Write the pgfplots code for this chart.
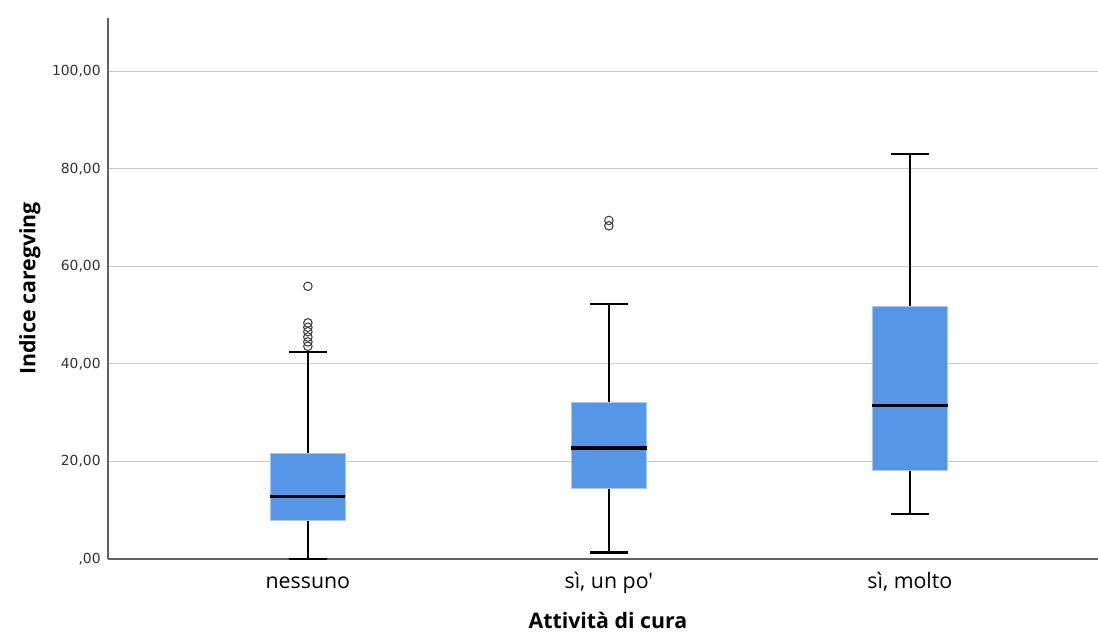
\documentclass[border=0pt]{standalone}
\usepackage{fontspec}
\setmainfont{DejaVu Sans}
\newfontfamily\labelfont{Open Sans}
\newfontfamily\catfont{Open Sans}
\usepackage{pgfplots}
\pgfplotsset{compat=1.18}
\definecolor{boxblue}{HTML}{5596E6}
\definecolor{boxedge}{HTML}{A9C8F0}
\definecolor{gridgray}{HTML}{C8C8C8}
\definecolor{axisgray}{HTML}{606060}
\begin{document}
\begin{tikzpicture}
\useasboundingbox (-81pt,-55.5pt) rectangle (742.5pt,419.25pt);
\begin{axis}[
  scale only axis,
  width=742.5pt, height=405.75pt,
  xmin=-0.664, xmax=2.625,
  ymin=0, ymax=110.9,
  axis x line*=bottom, axis y line*=left,
  axis line style={axisgray, line width=0.8pt},
  xtick={0,1,2},
  xticklabels={nessuno, {sì, un po'}, {sì, molto}},
  ytick={0,20,40,60,80,100},
  yticklabels={{,00},{20,00},{40,00},{60,00},{80,00},{100,00}},
  tick style={draw=none},
  ymajorgrids,
  grid style={gridgray, line width=0.8pt},
  xticklabel style={font=\catfont\fontsize{16}{18}\selectfont, anchor=base, yshift=-21.75pt},
  yticklabel style={font=\fontsize{10.4}{12}\selectfont, text=black!80, xshift=-2pt},
  xlabel={\labelfont\bfseries Attività di cura},
  ylabel={\labelfont\bfseries Indice caregving},
  x label style={font=\fontsize{16}{18}\selectfont, at={(axis description cs:0.505,-0.113)}, anchor=center},
  y label style={font=\fontsize{16}{18}\selectfont, at={(axis description cs:-0.079,0.5)}, anchor=center},
  clip=false,
]
% nessuno
\addplot[black, line width=1.4pt] coordinates {(0,0) (0,7.85)};
\addplot[black, line width=1.4pt] coordinates {(0,21.66) (0,42.4)};
\addplot[black, line width=1.8pt] coordinates {(-0.0625,0) (0.0625,0)};
\addplot[black, line width=1.8pt] coordinates {(-0.0625,42.4) (0.0625,42.4)};
\addplot[fill=boxblue, draw=boxedge, line width=0.5pt] coordinates {(-0.125,7.85) (0.125,7.85) (0.125,21.66) (-0.125,21.66) (-0.125,7.85)};
\addplot[black, line width=2.3pt] coordinates {(-0.125,12.9) (0.125,12.9)};
\addplot[only marks, mark=o, mark size=3.2pt, mark options={draw=black!75, line width=0.8pt}] coordinates {(0,55.9) (0,48.4) (0,47.5) (0,46.6) (0,45.5) (0,44.5) (0,43.6)};
% si, un po'
\addplot[black, line width=1.4pt] coordinates {(1,1.3) (1,14.4)};
\addplot[black, line width=1.4pt] coordinates {(1,32.17) (1,52.25)};
\addplot[black, line width=1.8pt] coordinates {(0.9375,1.3) (1.0625,1.3)};
\addplot[black, line width=1.8pt] coordinates {(0.9375,52.25) (1.0625,52.25)};
\addplot[fill=boxblue, draw=boxedge, line width=0.5pt] coordinates {(0.875,14.4) (1.125,14.4) (1.125,32.17) (0.875,32.17) (0.875,14.4)};
\addplot[black, line width=2.3pt] coordinates {(0.875,22.75) (1.125,22.75)};
\addplot[only marks, mark=o, mark size=3.2pt, mark options={draw=black!75, line width=0.8pt}] coordinates {(1,69.4) (1,68.3)};
% si, molto
\addplot[black, line width=1.4pt] coordinates {(2,9.2) (2,18.24)};
\addplot[black, line width=1.4pt] coordinates {(2,51.7) (2,83.0)};
\addplot[black, line width=1.8pt] coordinates {(1.9375,9.2) (2.0625,9.2)};
\addplot[black, line width=1.8pt] coordinates {(1.9375,83.0) (2.0625,83.0)};
\addplot[fill=boxblue, draw=boxedge, line width=0.5pt] coordinates {(1.875,18.24) (2.125,18.24) (2.125,51.7) (1.875,51.7) (1.875,18.24)};
\addplot[black, line width=2.3pt] coordinates {(1.875,31.56) (2.125,31.56)};
\end{axis}
\end{tikzpicture}
\end{document}
